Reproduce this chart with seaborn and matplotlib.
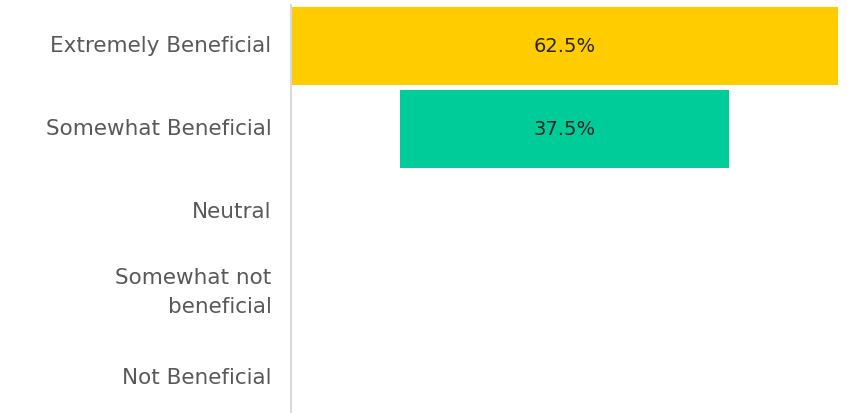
import matplotlib
matplotlib.use("Agg")
import matplotlib.pyplot as plt
import matplotlib.transforms as mtransforms
import seaborn as sns
import pandas as pd

categories = ["Extremely Beneficial", "Somewhat Beneficial", "Neutral",
              "Somewhat not\nbeneficial", "Not Beneficial"]
shares = [62.5, 37.5, 0.0, 0.0, 0.0]
bar_colors = ["#FFCC00", "#00CC99", "#FFCC00", "#FFCC00", "#FFCC00"]
value_labels = ["62.5%", "37.5%", "", "", ""]

df = pd.DataFrame({"category": categories, "share": shares})

sns.set_theme(style="white")
plt.rcParams["font.family"] = ["DejaVu Sans"]

fig = plt.figure(figsize=(8.49, 4.13), dpi=100)
ax = fig.add_axes([291 / 849, 0, (838 - 291) / 849, (413 - 4.5) / 413])

sns.barplot(data=df, x="share", y="category", hue="category",
            palette=bar_colors, orient="h", width=0.93,
            legend=False, ax=ax, saturation=1)

# centre every bar on the widest one (funnel layout)
top = max(shares)
for patch, val, lab in zip(ax.patches, shares, value_labels):
    patch.set_x((top - val) / 2)
    patch.set_linewidth(0)
    if lab:
        yc = patch.get_y() + patch.get_height() / 2
        ax.text(top / 2, yc, lab, ha="center", va="center",
                fontsize=14, color="#262626")

ax.set_xlim(0, top)
ax.set_ylim(4.42, -0.5)
ax.set_xlabel("")
ax.set_ylabel("")
ax.set_xticks([])
ax.tick_params(axis="y", length=0, pad=14, labelsize=15.5, labelcolor="#595959")
for lab in ax.get_yticklabels():
    lab.set_ha("right")
    lab.set_multialignment("right")
    lab.set_linespacing(1.55)
    shift = 9 if "\n" in lab.get_text() else 2
    lab.set_transform(lab.get_transform() +
                      mtransforms.ScaledTranslation(0, shift / 100, fig.dpi_scale_trans))

for side in ["top", "right", "bottom"]:
    ax.spines[side].set_visible(False)
ax.spines["left"].set_color("#D9D9D9")
ax.spines["left"].set_linewidth(1.5)

fig.savefig("out.png", dpi=100)
